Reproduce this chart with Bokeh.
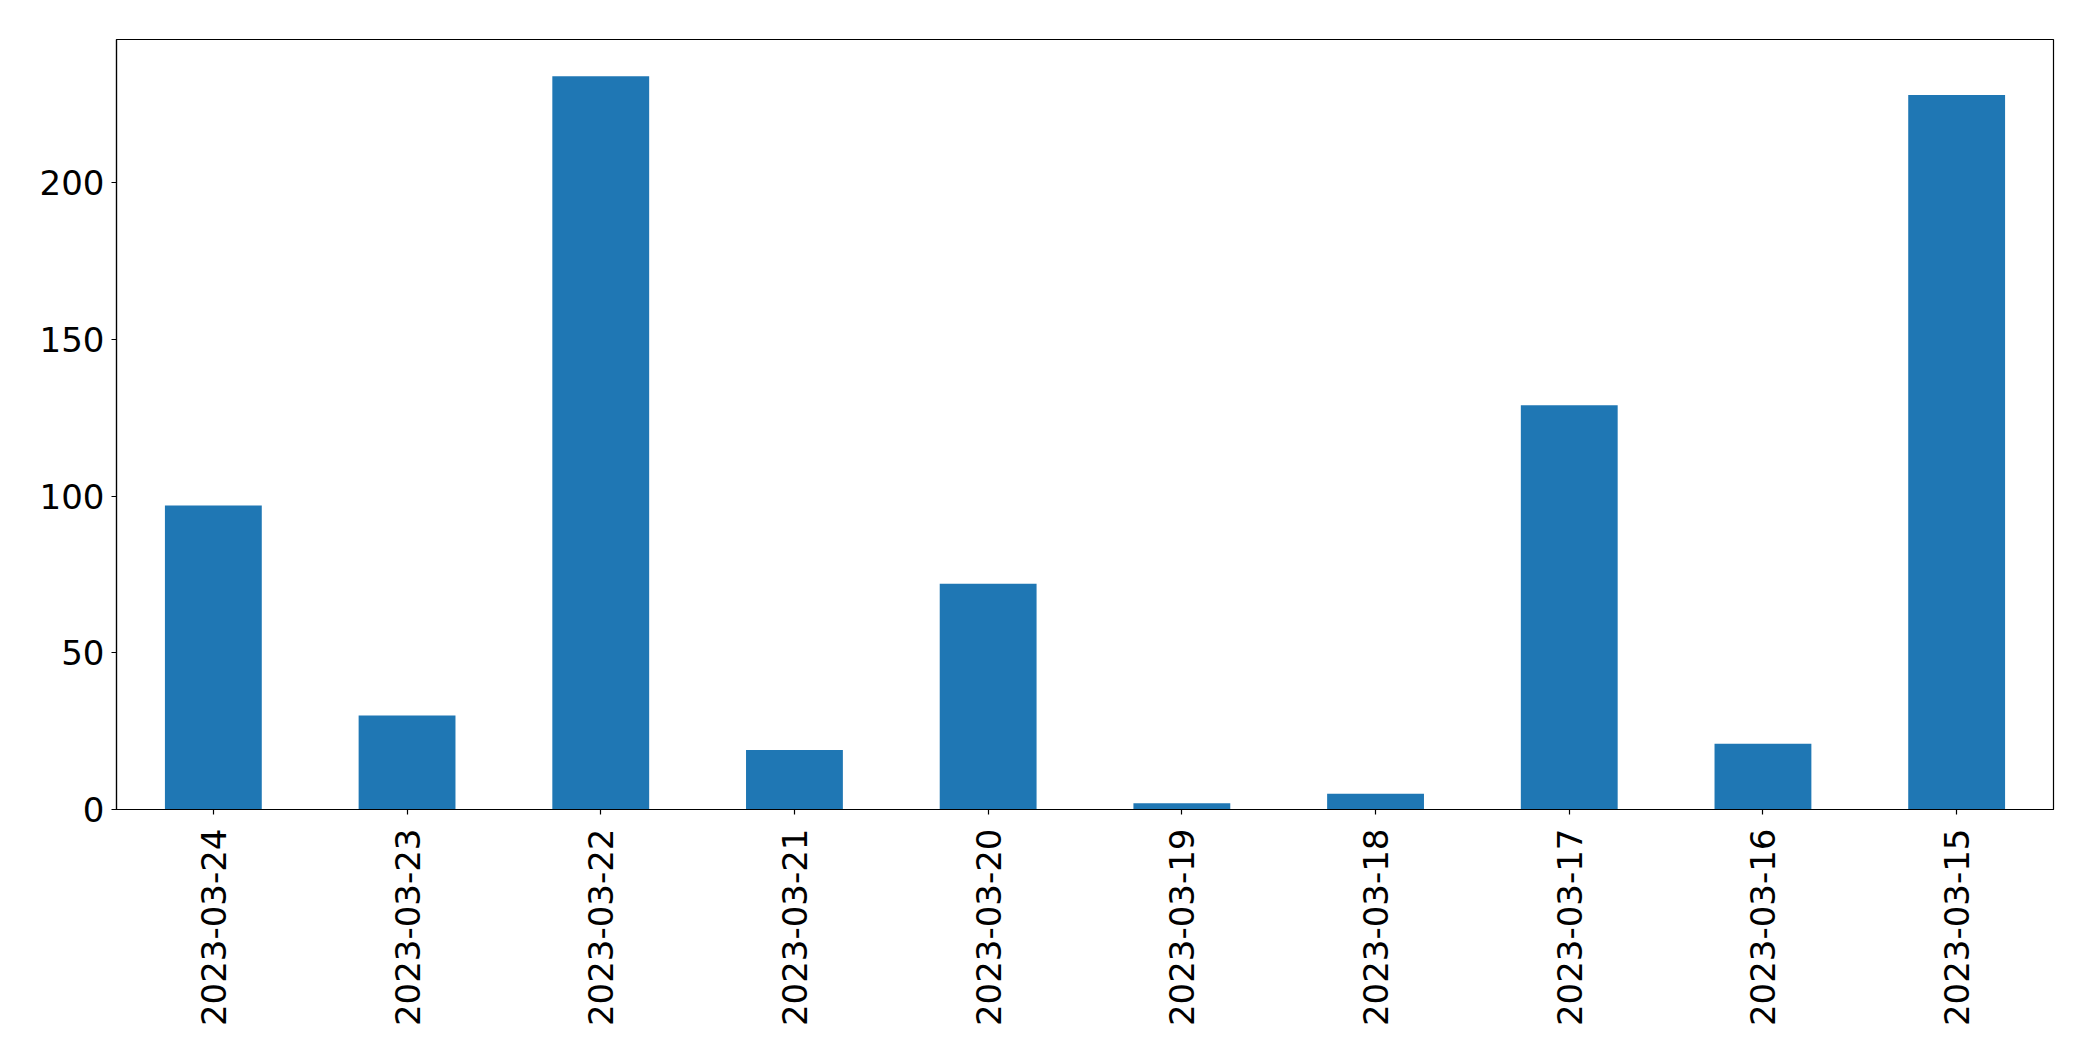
import math
from bokeh.plotting import figure
from bokeh.models import ColumnDataSource, FactorRange, Range1d, FixedTicker
from bokeh.embed import file_html
from bokeh.resources import INLINE

dates = ["2023-03-24", "2023-03-23", "2023-03-22", "2023-03-21", "2023-03-20",
         "2023-03-19", "2023-03-18", "2023-03-17", "2023-03-16", "2023-03-15"]
counts = [97, 30, 234, 19, 72, 2, 5, 129, 21, 228]
y_ticks = [0, 50, 100, 150, 200]

source = ColumnDataSource(data=dict(date=dates, count=counts))

W, H = 2077, 1045
p = figure(width=W, height=H, output_backend="svg", toolbar_location=None,
           x_range=FactorRange(factors=dates, range_padding=0),
           y_range=Range1d(0, max(counts) * 1.05))
p.min_border_left = 116
p.min_border_right = W - 2053
p.min_border_top = 39
p.min_border_bottom = H - 809

p.vbar(x="date", top="count", width=0.5, source=source,
       fill_color="#1f77b4", line_color=None)

p.xgrid.visible = False
p.ygrid.visible = False
p.outline_line_color = "black"
p.outline_line_width = 1.2
p.outline_line_alpha = 1
p.background_fill_color = "white"
p.border_fill_color = "white"

for ax in (p.xaxis[0], p.yaxis[0]):
    ax.axis_line_color = "black"
    ax.axis_line_width = 1.2
    ax.major_tick_line_color = "black"
    ax.major_tick_line_width = 1.2
    ax.major_tick_out = 5
    ax.major_tick_in = 0
    ax.minor_tick_line_color = None
    ax.major_label_text_font = "DejaVu Sans"
    ax.major_label_text_font_size = "34px"
    ax.major_label_text_color = "black"

p.yaxis[0].ticker = FixedTicker(ticks=y_ticks)
p.yaxis[0].major_label_standoff = 7
p.xaxis[0].major_label_orientation = math.pi / 2
p.xaxis[0].major_label_standoff = 14

open("out.html", "w").write(file_html(p, INLINE))
